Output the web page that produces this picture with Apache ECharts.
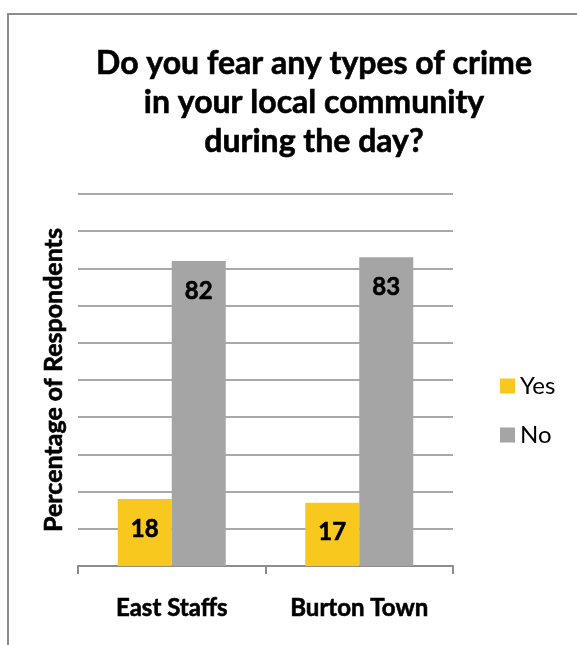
<!DOCTYPE html>
<html>
<head>
<meta charset="utf-8">
<style>
  html, body { margin: 0; padding: 0; background: #ffffff; }
  #chart { width: 577px; height: 645px; }
</style>
<script src="https://cdn.jsdelivr.net/npm/echarts@6/dist/echarts.min.js"></script>
</head>
<body>
<div id="chart"></div>
<script>
// Survey areas and responses (percentage of respondents)
const categories = ['East Staffs', 'Burton Town'];
const yesValues = [18, 17];
const noValues = [82, 83];
const seriesNames = ['Yes', 'No'];

const chart = echarts.init(document.getElementById('chart'), null, { renderer: 'canvas' });

const FONT = 'Lato, "Open Sans", sans-serif';
// a thin same-colour outline gives the bold text a heavier weight
const heavy = { textBorderColor: '#000', textBorderWidth: 0.6 };

const labelStyle = Object.assign({
  show: true,
  position: 'insideTop',
  distance: 18,
  color: '#000',
  fontFamily: FONT,
  fontWeight: 'bold',
  fontSize: 24
}, heavy);

chart.setOption({
  backgroundColor: '#ffffff',
  animation: false,
  graphic: [{
    type: 'rect',
    shape: { x: 8, y: 14, width: 700, height: 700 },
    style: { fill: 'none', stroke: '#8c8c8c', lineWidth: 2 },
    silent: true
  }],
  title: {
    text: 'Do you fear any types of crime\nin your local community\nduring the day?',
    left: 309,
    top: 39,
    textAlign: 'center',
    textStyle: Object.assign({
      fontFamily: FONT,
      fontWeight: 'bold',
      fontSize: 32,
      lineHeight: 39,
      color: '#000'
    }, heavy)
  },
  legend: {
    data: seriesNames,
    orient: 'vertical',
    left: 495,
    top: 369,
    itemWidth: 15,
    itemHeight: 15,
    itemGap: 25,
    icon: 'rect',
    textStyle: { fontFamily: FONT, fontSize: 24, color: '#000', padding: [0, 0, 0, 0] }
  },
  grid: { left: 78, right: 124, top: 194, bottom: 79 },
  xAxis: {
    type: 'category',
    data: categories,
    axisLine: { lineStyle: { color: '#8c8c8c', width: 2 } },
    axisTick: { show: true, length: 8, lineStyle: { color: '#8c8c8c', width: 2 } },
    axisLabel: Object.assign({
      margin: 30,
      color: '#000',
      fontFamily: FONT,
      fontWeight: 'bold',
      fontSize: 24
    }, heavy)
  },
  yAxis: {
    type: 'value',
    min: 0,
    max: 100,
    interval: 10,
    name: 'Percentage of Respondents',
    nameLocation: 'middle',
    nameRotate: 90,
    nameGap: 12,
    nameTextStyle: Object.assign({
      fontFamily: FONT,
      fontWeight: 'bold',
      fontSize: 25,
      color: '#000'
    }, heavy),
    axisLabel: { show: false },
    axisLine: { show: false },
    axisTick: { show: false },
    splitLine: { lineStyle: { color: '#8c8c8c', width: 1.5 } }
  },
  series: [
    {
      name: seriesNames[0],
      type: 'bar',
      data: yesValues,
      barWidth: 54,
      barGap: '0%',
      itemStyle: { color: '#F9C81E' },
      label: labelStyle
    },
    {
      name: seriesNames[1],
      type: 'bar',
      data: noValues,
      barWidth: 54,
      barGap: '0%',
      itemStyle: { color: '#A5A5A5' },
      label: labelStyle
    }
  ]
});
</script>
</body>
</html>
